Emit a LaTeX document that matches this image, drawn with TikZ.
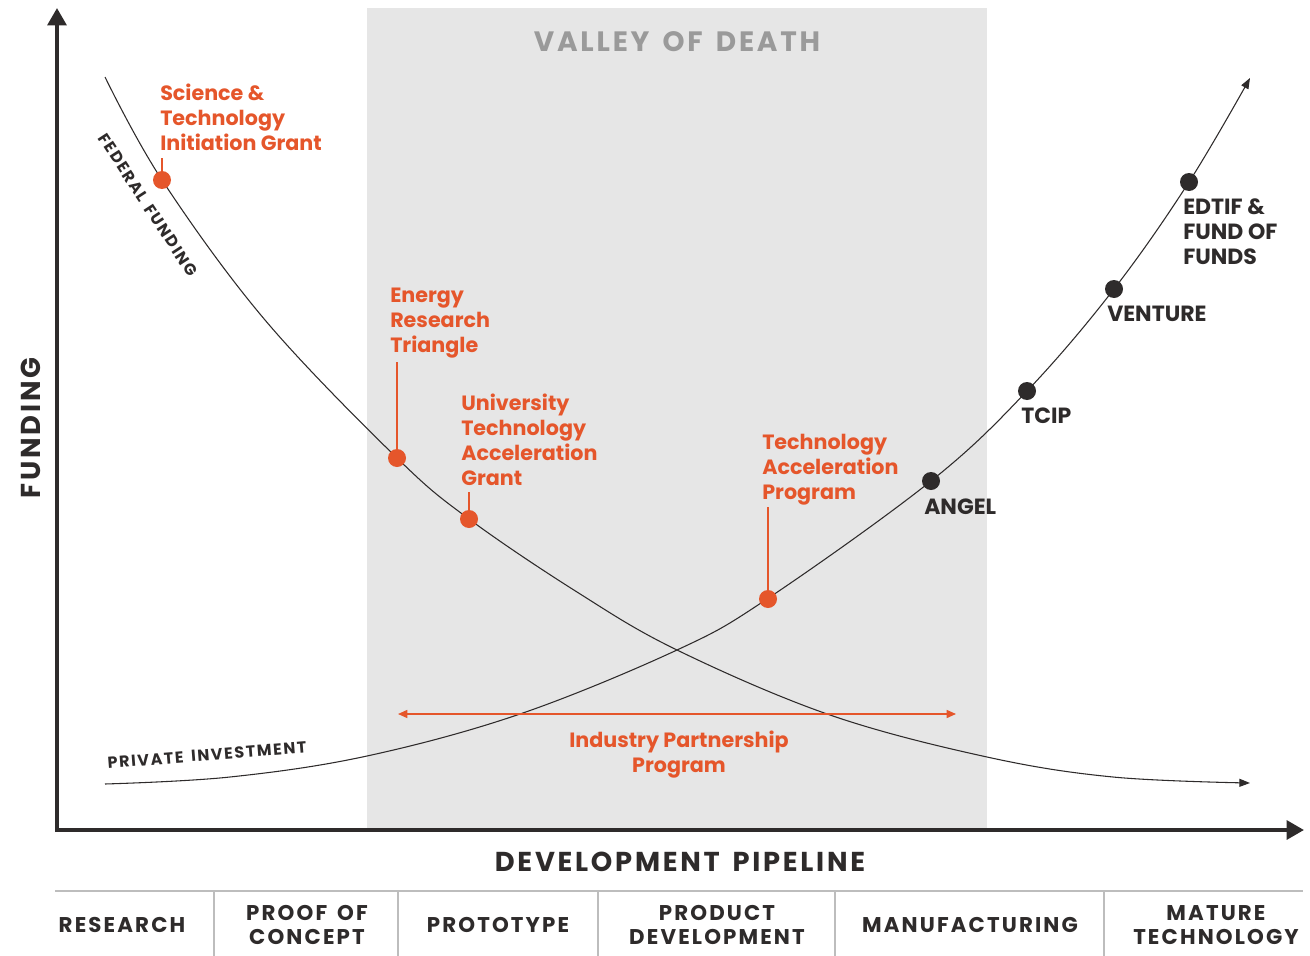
\documentclass[tikz,border=0pt]{standalone}
\usepackage{fontspec}
\setmainfont{Poppins}
\newfontfamily\capsfont[LetterSpace=10, WordSpace=1.5]{Poppins}
\usetikzlibrary{arrows.meta}
\definecolor{vorange}{HTML}{E5562B}
\definecolor{vdark}{HTML}{2E2B2B}
\definecolor{vgray}{HTML}{E6E6E6}
\definecolor{vtitle}{HTML}{9A9A9A}
\definecolor{vrule}{HTML}{BDBDBD}
\tikzset{
  prog/.style={text=vorange, font=\bfseries\fontsize{15.5}{18.75}\selectfont, align=left, inner sep=0pt, anchor=north west},
  fund/.style={text=vdark, font=\bfseries\fontsize{16.5}{18.75}\selectfont, align=left, inner sep=0pt, anchor=north west},
  odot/.style={circle, fill=vorange, inner sep=0pt, minimum size=13.5pt},
  bdot/.style={circle, fill=vdark, inner sep=0pt, minimum size=13.5pt},
  lead/.style={draw=vorange, line width=0.9pt},
  axis/.style={draw=vdark, line width=3pt, -{Triangle[length=13pt,width=14pt]}},
  curve/.style={draw=vdark, line width=0.8pt, -{Triangle[length=8pt,width=6pt]}},
  stage/.style={text=vdark, font=\capsfont\bfseries\fontsize{16}{18}\selectfont, align=center},
  axislabel/.style={text=vdark, font=\capsfont\bfseries\fontsize{20.5}{22}\selectfont},
  curvelabel/.style={text=vdark, font=\capsfont\bfseries\fontsize{12}{14}\selectfont}
}
\begin{document}
\begin{tikzpicture}[x=0.75pt, y=-0.75pt]
\useasboundingbox (0,0) rectangle (1310,956);
% valley of death band
\fill[vgray] (367,8) rectangle (987,830);
\node (valley) [text=vtitle, font=\capsfont\bfseries\fontsize{21}{22}\selectfont] at (677,42) {VALLEY OF DEATH};

% axes
\coordinate (origin) at (57,832);
\coordinate (ytop) at (57,8);
\coordinate (xstart) at (55,830);
\coordinate (xend) at (1304,830);
\draw[axis] (origin) -- (ytop);
\draw[axis] (xstart) -- (xend);
\node (funding) [axislabel, rotate=90] at (31,428) {FUNDING};
\node (pipeline) [axislabel] at (680,862) {DEVELOPMENT PIPELINE};

% stages of the pipeline
\draw[vrule, line width=1.2pt] (55,891) -- (1303,891);
\foreach \x in {214,398,598,835,1104}
  \draw[vrule, line width=1.2pt] (\x,891) -- (\x,956);
\node (research) [stage] at (122,925) {RESEARCH};
\node (poc) [stage] at (307,925) {PROOF OF\\CONCEPT};
\node (proto) [stage] at (498,925) {PROTOTYPE};
\node (proddev) [stage] at (717,925) {PRODUCT\\DEVELOPMENT};
\node (manuf) [stage] at (970,925) {MANUFACTURING};
\node (mature) [stage] at (1216,925) {MATURE\\TECHNOLOGY};

% funding curves
\draw[curve] plot[smooth, tension=0.6] coordinates {(105,77) (162,180) (265,320) (397,458) (469,519) (577,592) (677,650) (830,715) (987,757) (1113,777) (1250,783)};
\draw[curve] plot[smooth, tension=0.6] coordinates {(105,784) (230,777) (367,756) (520,714) (677,650) (767,599) (931,481) (1027,391) (1114,289) (1189,182) (1250,78)};
\node (federal) [curvelabel, rotate=-57] at (148,205) {FEDERAL FUNDING};
\node (private) [curvelabel, rotate=4.5] at (207,755) {PRIVATE INVESTMENT};

% state programs
\node (stig) [prog] at (160,84) {Science \&\\Technology\\Initiation Grant};
\node (ert) [prog] at (390,288) {Energy\\Research\\Triangle};
\node (utag) [prog] at (461,394) {University\\Technology\\Acceleration\\Grant};
\node (tap) [prog] at (762,434) {Technology\\Acceleration\\Program};
\node (ipp) [prog, align=center, anchor=north] at (679,731) {Industry Partnership\\Program};
\coordinate (l1) at (162,158);
\coordinate (l2) at (397,362);
\coordinate (l3) at (469,492);
\coordinate (l4) at (768,507);
\coordinate (ipL) at (398,714);
\coordinate (ipR) at (956,714);
\draw[lead, line width=1.1pt, {Triangle[length=7pt,width=6pt]}-{Triangle[length=7pt,width=6pt]}] (ipL) -- (ipR);
\node (d1) [odot] at (162,180) {};
\node (d2) [odot] at (397,458) {};
\node (d3) [odot] at (469,519) {};
\node (d4) [odot] at (768,599) {};
\draw[lead] (l1) -- (d1);
\draw[lead] (l2) -- (d2);
\draw[lead] (l3) -- (d3);
\draw[lead] (l4) -- (d4);

% private capital
\node (angel) [bdot] at (931,481) {};
\node (tcip) [bdot] at (1027,391) {};
\node (venture) [bdot] at (1114,289) {};
\node (edtif) [bdot] at (1189,182) {};
\node (angeltxt) [fund] at (924,499) {ANGEL};
\node (tciptxt) [fund] at (1021,408) {TCIP};
\node (venturetxt) [fund] at (1107,306) {VENTURE};
\node (edtiftxt) [fund] at (1183,198) {EDTIF \&\\FUND OF\\FUNDS};
\end{tikzpicture}
\end{document}
